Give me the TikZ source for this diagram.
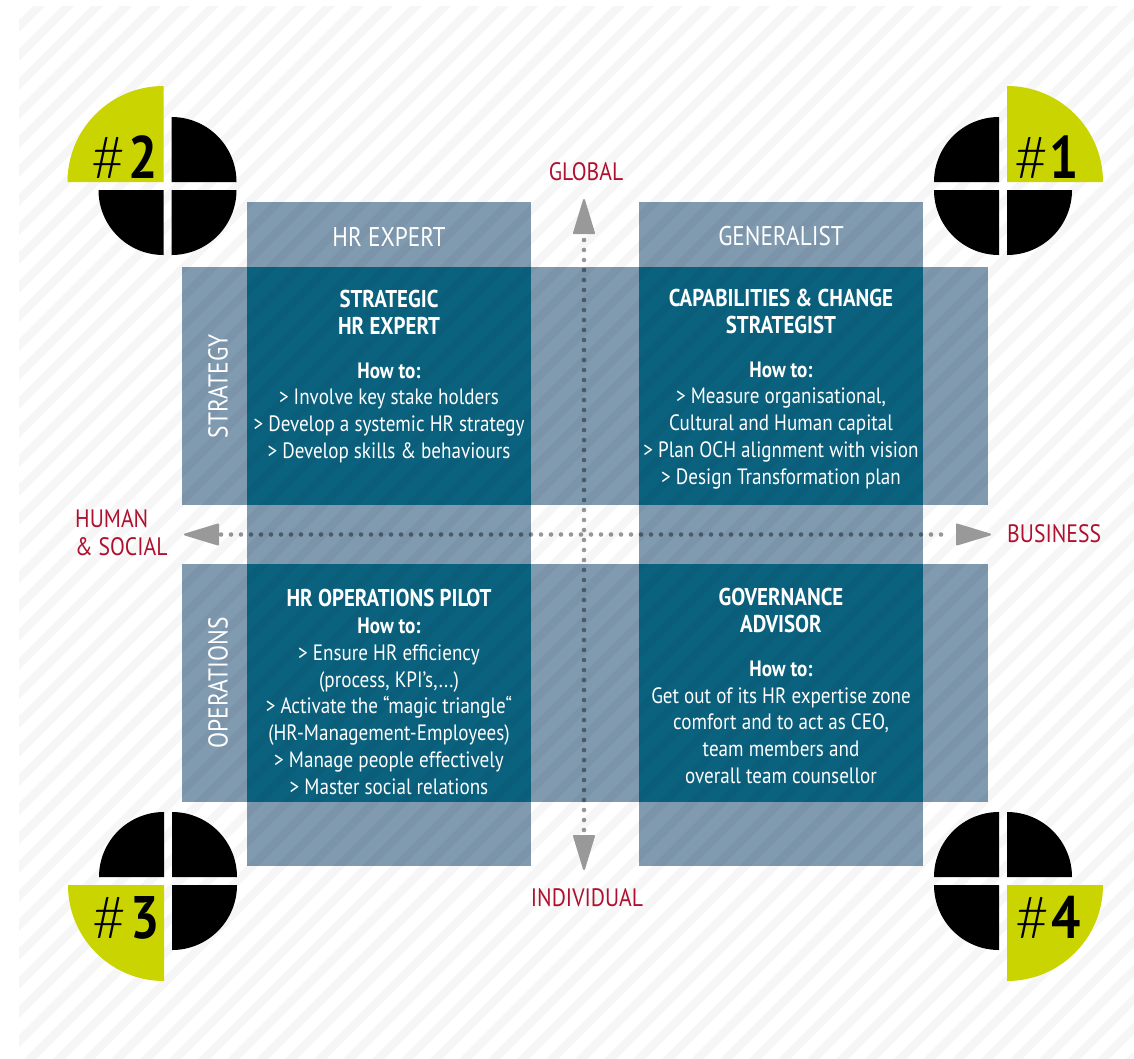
\documentclass[tikz,border=0pt]{standalone}
\usepackage{fontspec}
\setmainfont[FakeStretch=0.86]{PT Sans}
\newfontfamily\thinfont[UprightFont=* Light]{Lato}
\definecolor{lightbox}{HTML}{809AB0}
\definecolor{darkbox}{HTML}{0B627F}
\definecolor{lime}{HTML}{C9D400}
\definecolor{redlabel}{HTML}{B0102F}
\definecolor{arrowgray}{HTML}{999999}
\newcommand{\ttl}[1]{{\fontsize{24.3}{27}\selectfont\textbf{#1}}}
\tikzset{
  boxlight/.style={fill=lightbox,draw=none,inner sep=0pt,outer sep=0pt,anchor=north west},
  boxdark/.style={fill=darkbox,draw=none,inner sep=0pt,outer sep=0pt,anchor=north west},
  celltext/.style={text=white,align=center,font=\fontsize{22.2}{26.8}\selectfont,inner sep=0pt},
  headtext/.style={text=white,font=\fontsize{27}{30}\selectfont,inner sep=0pt},
  sidetext/.style={text=white,rotate=90,font=\fontsize{27.3}{30}\selectfont,inner sep=0pt},
  axislabel/.style={text=redlabel,font=\fontsize{25.2}{28}\selectfont,inner sep=0pt},
  dotline/.style={line width=4.6pt,line cap=round,dash pattern=on 0pt off 10pt,draw=black,draw opacity=.4},
  arrowhead/.style={fill=arrowgray,draw=arrowgray,line width=2pt,line join=round},
  numlabel/.style={inner sep=0pt,text=black,anchor=base west,font=\fontsize{60}{60}\selectfont},
}
\begin{document}
\begin{tikzpicture}[x=1pt,y=-1pt]
\useasboundingbox (0,0) rectangle (1134,1058);
\fill[white] (0,0) rectangle (1134,1058);
% boxes
\node[boxlight,minimum width=284pt,minimum height=664pt] (colA) at (247,202) {};
\node[boxlight,minimum width=284pt,minimum height=664pt] (colB) at (639,202) {};
\node[boxlight,minimum width=806pt,minimum height=238pt] (rowA) at (182,267) {};
\node[boxlight,minimum width=806pt,minimum height=238pt] (rowB) at (182,564) {};
\node[boxdark,minimum width=284pt,minimum height=238pt] (cellA) at (247,267) {};
\node[boxdark,minimum width=284pt,minimum height=238pt] (cellB) at (639,267) {};
\node[boxdark,minimum width=284pt,minimum height=238pt] (cellC) at (247,564) {};
\node[boxdark,minimum width=284pt,minimum height=238pt] (cellD) at (639,564) {};
% stripes
\begin{scope}
\clip (19,6) rectangle (1134,1058);
\foreach \k in {-1,...,74}{
  \pgfmathsetmacro{\s}{39+29*\k}
  \fill[black,fill opacity=.035] (\s,0) -- (\s+12,0) -- (\s+12-1100,1100) -- (\s-1100,1100) -- cycle;
}
\end{scope}
% axes
\coordinate (axL) at (221,534.5);
\coordinate (axR) at (950,534.5);
\coordinate (axT) at (584,230);
\coordinate (axB) at (584,840);
\draw[dotline] (axL) -- (axR);
\draw[dotline] (axT) -- (axB);
\coordinate (tipL) at (185,534.5);
\coordinate (tipR) at (990,534.5);
\coordinate (tipT) at (584,200);
\coordinate (tipB) at (584,869);
\fill[arrowhead] (tipL) -- ++(33,-10) -- ++(0,20) -- cycle;
\fill[arrowhead] (tipR) -- ++(-33,-10) -- ++(0,20) -- cycle;
\fill[arrowhead] (tipT) -- ++(-10,33) -- ++(20,0) -- cycle;
\fill[arrowhead] (tipB) -- ++(-10,-33) -- ++(20,0) -- cycle;
% headers
\node[headtext] (hHR) at (389,236.5) {HR EXPERT};
\node[headtext] (hGen) at (781,236.5) {GENERALIST};
\node[sidetext] (sStr) at (218,386) {STRATEGY};
\node[sidetext] (sOps) at (218,683) {OPERATIONS};
% cells
\node[celltext] (tA) at (389,376.5) {\ttl{STRATEGIC}\\\ttl{HR EXPERT}\\[17pt]\textbf{How to:}\\> Involve key stake holders\\> Develop a systemic HR strategy\\> Develop skills \& behaviours};
\node[celltext] (tB) at (781,389) {\ttl{CAPABILITIES \& CHANGE}\\\ttl{STRATEGIST}\\[17pt]\textbf{How to:}\\> Measure organisational,\\Cultural and Human capital\\> Plan OCH alignment with vision\\> Design Transformation plan};
\node[celltext] (tC) at (389,692) {\ttl{HR OPERATIONS PILOT}\\\textbf{How to:}\\> Ensure HR efficiency\\(process, KPI’s,...)\\> Activate the “magic triangle“\\(HR-Management-Employees)\\> Manage people effectively\\> Master social relations};
\node[celltext] (tD) at (781,686) {\ttl{GOVERNANCE}\\\ttl{ADVISOR}\\[17pt]\textbf{How to:}\\Get out of its HR expertise zone\\comfort and to act as CEO,\\team members and\\overall team counsellor};
% axis labels
\node[axislabel] (lG) at (586,172) {GLOBAL};
\node[axislabel] (lI) at (587,898) {INDIVIDUAL};
\node[axislabel,anchor=west] (lB) at (1007,534) {BUSINESS};
\node[axislabel,align=left,anchor=west] (lH) at (75,533) {HUMAN\\\& SOCIAL};
% discs
\newcommand{\disc}[4]{% cx, cy, green sx, green sy
  \foreach \sx/\sy in {1/1,1/-1,-1/1,-1/-1}{
    \pgfmathsetmacro{\isgreen}{(\sx==#3 && \sy==#4) ? 1 : 0}
    \ifnum\isgreen=1
      \pgfmathsetmacro{\rr}{96}\def\cc{lime}
    \else
      \pgfmathsetmacro{\rr}{65}\def\cc{black}
    \fi
    \fill[\cc] (#1+\sx*4,#2+\sy*4) -- ++(\sx*\rr,0) arc[start angle=0,end angle=90,x radius=\sx*\rr,y radius=\sy*\rr] -- cycle;
  }
}
\disc{1003}{186}{1}{-1}
\disc{167.5}{186}{-1}{-1}
\disc{168}{881}{-1}{1}
\disc{1003}{881}{1}{1}
\node[numlabel] (n1) at (1014,178) {{\thinfont\fontsize{58}{60}\selectfont\#}\kern2pt\textbf{1}};
\node[numlabel] (n2) at (91,178) {{\thinfont\fontsize{58}{60}\selectfont\#}\kern4pt\textbf{2}};
\node[numlabel] (n3) at (92,938) {{\thinfont\fontsize{58}{60}\selectfont\#}\kern5pt\textbf{3}};
\node[numlabel] (n4) at (1015,938) {{\thinfont\fontsize{58}{60}\selectfont\#}\kern3pt\textbf{4}};
\end{tikzpicture}
\end{document}
